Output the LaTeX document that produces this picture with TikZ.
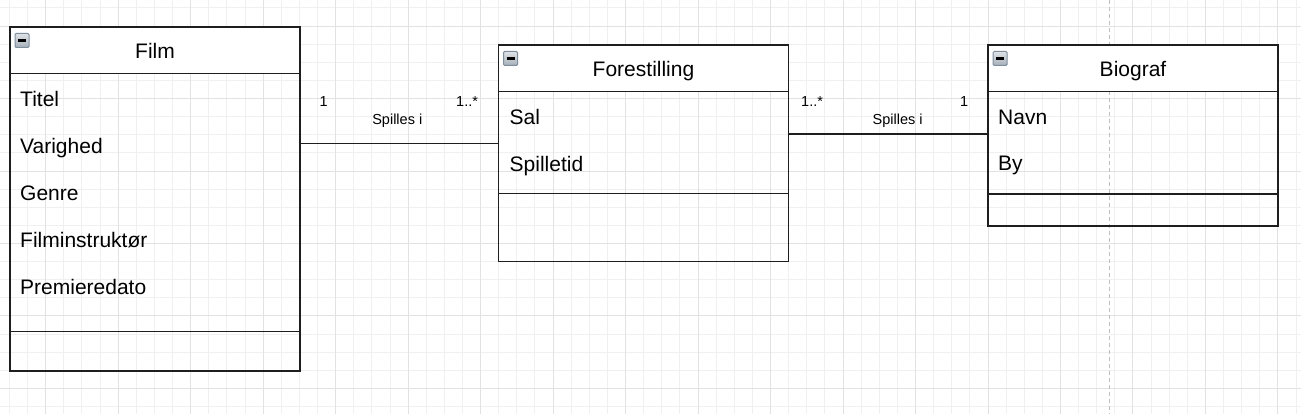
\documentclass[tikz,border=0pt]{standalone}
\usepackage{fontspec}
\setmainfont{Liberation Sans}
\usetikzlibrary{positioning}

\definecolor{rutelys}{HTML}{F0F0F0}
\definecolor{rutemork}{HTML}{E2E2E2}
\definecolor{kant}{HTML}{1E1E1E}
\definecolor{ikonkant}{HTML}{7F8E9C}

\tikzset{
  hode/.style={draw=kant, line width=1.7pt, fill=white, anchor=north west,
    minimum width=290pt, minimum height=46.5pt, inner sep=0pt, outer sep=0pt,
    text height=17pt, text depth=0pt, font=\fontsize{21}{25}\selectfont},
  felt/.style={draw=kant, line width=1.7pt, minimum width=290pt,
    inner sep=0pt, outer sep=0pt},
  attr/.style={anchor=base west, inner sep=0pt, font=\fontsize{21}{25}\selectfont},
  merke/.style={anchor=base west, inner sep=0pt, font=\fontsize{14.5}{17}\selectfont},
  ikon/.style={draw=ikonkant, line width=1pt, rounded corners=1.2pt,
    top color=ikonkant!25, bottom color=ikonkant!70,
    minimum size=14pt, inner sep=0pt, text=black},
  linje/.style={draw=kant, line width=1.5pt}
}

\begin{document}
\begin{tikzpicture}[x=1pt,y=-1pt]
    \useasboundingbox (0,0) rectangle (1301,414);
    \fill[white] (0,0) rectangle (1301,414);
    % rutenett
    \foreach \i in {-2,...,69} \draw[rutelys, line width=0.9pt] ({45.7+\i*18.12},0) -- ({45.7+\i*18.12},414);
    \foreach \i in {-1,...,22} \draw[rutelys, line width=0.9pt] (0,{26+\i*18.12}) -- (1301,{26+\i*18.12});
    \foreach \i in {0,...,17} \draw[rutemork, line width=0.9pt] ({45.7+\i*72.48},0) -- ({45.7+\i*72.48},414);
    \foreach \i in {0,...,5} \draw[rutemork, line width=0.9pt] (0,{26+\i*72.48}) -- (1301,{26+\i*72.48});
    \draw[black!25, line width=0.9pt, dash pattern=on 4pt off 3pt] (1109.5,0) -- (1109.5,414);

    % Film
    \node[hode] (film) at (10,27) {Film};
    \node[felt, minimum height=258pt, below=0pt of film] (filmfelt) {};
    \node[felt, minimum height=39.5pt, below=0pt of filmfelt] (filmmetode) {};
    \node[ikon] (filmikon) at ([shift={(12pt,-13.5pt)}]film.north west) {\rule{8pt}{2.2pt}};
    \node[attr] (titel) at (20,106.7) {Titel};
    \node[attr] (varighed) at (20,153.7) {Varighed};
    \node[attr] (genre) at (20,200.7) {Genre};
    \node[attr] (instruktor) at (20,247.7) {Filminstruktør};
    \node[attr] (premiere) at (20,294.7) {Premieredato};

    % Forestilling
    \node[hode] (forestilling) at (498.5,45) {Forestilling};
    \node[felt, minimum height=102pt, below=0pt of forestilling] (forfelt) {};
    \node[felt, minimum height=68pt, below=0pt of forfelt] (formetode) {};
    \node[ikon] (forikon) at ([shift={(12pt,-13.5pt)}]forestilling.north west) {\rule{8pt}{2.2pt}};
    \node[attr] (sal) at (509.5,125) {Sal};
    \node[attr] (spilletid) at (509.5,171.7) {Spilletid};

    % Biograf
    \node[hode] (biograf) at (988,45) {Biograf};
    \node[felt, minimum height=102.5pt, below=0pt of biograf] (biofelt) {};
    \node[felt, minimum height=32pt, below=0pt of biofelt] (biometode) {};
    \node[ikon] (bioikon) at ([shift={(12pt,-13.5pt)}]biograf.north west) {\rule{8pt}{2.2pt}};
    \node[attr] (navn) at (998,124.3) {Navn};
    \node[attr] (by) at (998,171) {By};

    % forbindelser
    \coordinate (hoyde1) at (0,143.5);
    \coordinate (hoyde2) at (0,133.8);
    \draw[linje] (filmfelt.east |- hoyde1) -- (forfelt.west |- hoyde1);
    \draw[linje] (forfelt.east |- hoyde2) -- (biofelt.west |- hoyde2);

    \node[merke] (en1) at (319.5,106.7) {1};
    \node[merke] (mange1) at (456,106.7) {1..*};
    \node[merke, anchor=base] (spilles1) at (397.3,124.3) {Spilles i};
    \node[merke] (mange2) at (801,106.7) {1..*};
    \node[merke] (en2) at (960,106.7) {1};
    \node[merke, anchor=base] (spilles2) at (897.7,124.3) {Spilles i};
\end{tikzpicture}
\end{document}
